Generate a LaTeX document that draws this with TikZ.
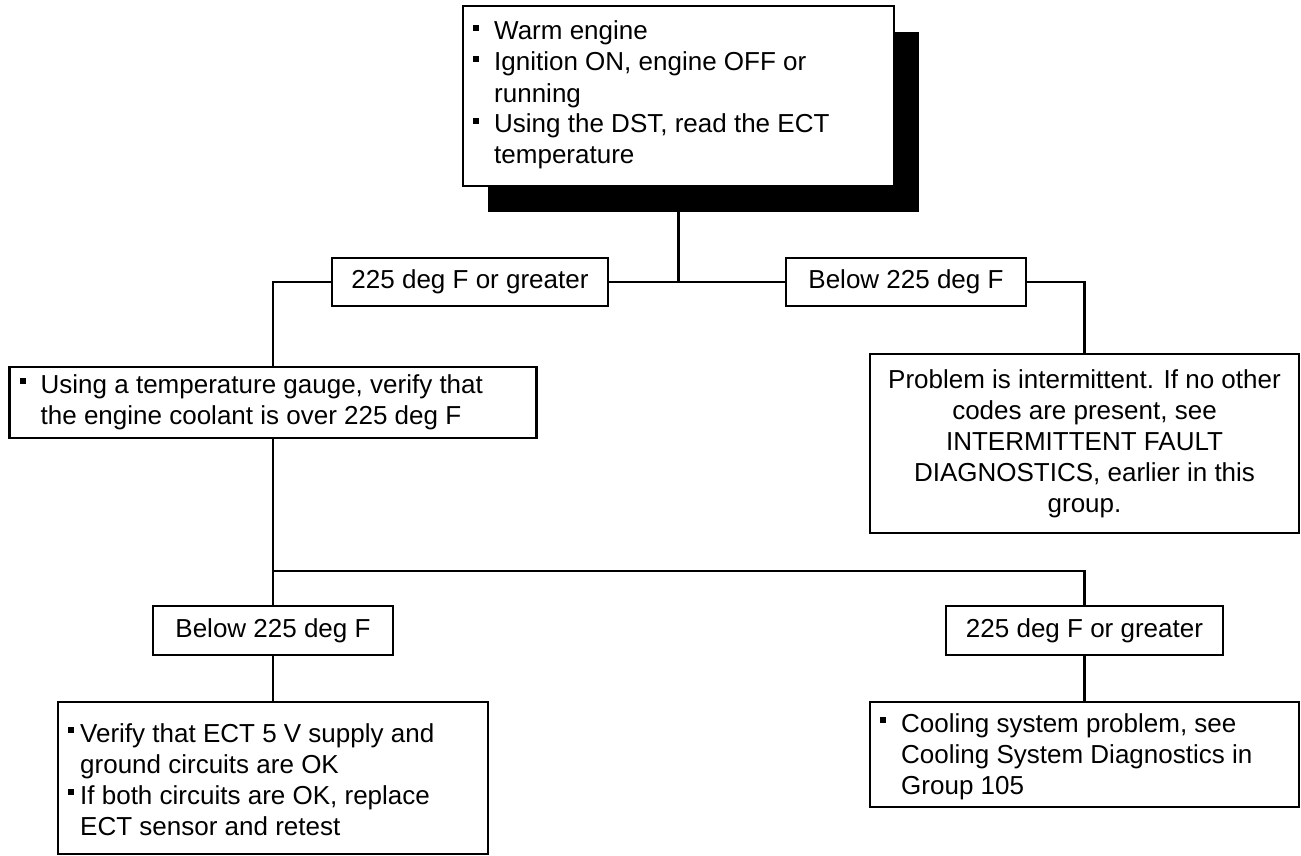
\documentclass[tikz,border=0pt]{standalone}
\usepackage{fontspec}
\setmainfont{Liberation Sans}
\usetikzlibrary{shadows}

% body text: Arial-metric sans, 26pt on 31pt lines
\newcommand\bodyfont{\fontsize{26pt}{31pt}\selectfont}
% square bullet in a hanging-indent box, and the matching indent for wrapped lines
\newcommand\blt[1][31pt]{\makebox[#1][l]{\hspace*{10pt}\rule[9pt]{6pt}{6pt}}}
\newcommand\cont[1][31pt]{\hspace*{#1}}

\begin{document}
\begin{tikzpicture}[x=1pt,y=-1pt,
  box/.style={draw, line width=2.8pt, fill=white, inner sep=0pt, rectangle},
  lbl/.style={box, font=\bodyfont, text height=18.6pt, text depth=5.5pt},
  % multi-line texts are placed by the baseline of their last line
  txt/.style={inner sep=0pt, align=left, anchor=base west, font=\bodyfont},
  ctxt/.style={inner sep=0pt, align=center, anchor=base, font=\bodyfont},
  wire/.style={line width=2.8pt}]

\useasboundingbox (0,0) rectangle (1301,856);

% start box with solid offset shadow
\node[box, minimum width=431pt, minimum height=180pt,
      drop shadow={shadow xshift=24.5pt, shadow yshift=-26pt, fill=black, opacity=1}]
      (start) at (678.5,96) {};
\node[txt] (startText) at (463,164)
  {\blt Warm engine\\
   \blt Ignition ON, engine OFF or\\
   \cont running\\
   \blt Using the DST, read the ECT\\
   \cont temperature};

% first decision labels
\node[lbl, minimum width=276pt, minimum height=48pt] (hotA) at (470,282) {225 deg F or greater};
\node[lbl, minimum width=240pt, minimum height=48pt] (coldA) at (906,282) {Below 225 deg F};

% gauge check
\node[box, minimum width=527pt, minimum height=71pt] (gauge) at (273,402.5) {};
\node[txt] (gaugeText) at (9.5,424)
  {\blt Using a temperature gauge, verify that\\
   \cont the engine coolant is over 225 deg F};

% intermittent result
\node[box, minimum width=429pt, minimum height=179pt] (inter) at (1084.5,443.5) {};
\node[ctxt] (interText) at (1084.5,512)
  {Problem is intermittent. If no other\\
   codes are present, see\\
   INTERMITTENT FAULT\\
   DIAGNOSTICS, earlier in this\\
   group.};

% second decision labels
\node[lbl, minimum width=240pt, minimum height=49pt] (coldB) at (273,630.5) {Below 225 deg F};
\node[lbl, minimum width=277pt, minimum height=49pt] (hotB) at (1084.5,630.5) {225 deg F or greater};

% final actions
\node[box, minimum width=430pt, minimum height=152pt] (sensor) at (273,778) {};
\node[txt] (sensorText) at (58,835)
  {\blt[22pt]Verify that ECT 5 V supply and\\
   \cont[22pt]ground circuits are OK\\
   \blt[22pt]If both circuits are OK, replace\\
   \cont[22pt]ECT sensor and retest};

\node[box, minimum width=429pt, minimum height=105pt] (cooling) at (1084.5,754.5) {};
\node[txt] (coolingText) at (870,794)
  {\blt Cooling system problem, see\\
   \cont Cooling System Diagnostics in\\
   \cont Group 105};

% connectors
\coordinate (split) at (273,571);
\draw[wire] (start.south) -- (start.south |- hotA.east);
\draw[wire] (hotA.east) -- (coldA.west);
\draw[wire] (hotA.west) -| (gauge.north);
\draw[wire] (coldA.east) -| (inter.north);
\draw[wire] (gauge.south) -- (coldB.north);
\draw[wire] (coldB.south) -- (sensor.north);
\draw[wire] (split) -| (hotB.north);
\draw[wire] (hotB.south) -- (cooling.north);
\end{tikzpicture}
\end{document}
